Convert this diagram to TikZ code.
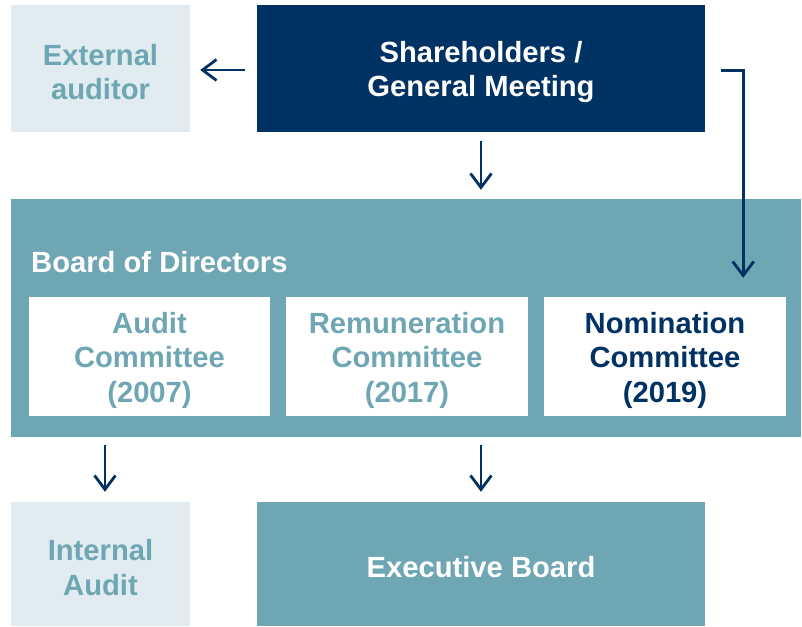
\documentclass[tikz,border=0pt]{standalone}
\usepackage{fontspec}
\setmainfont{Liberation Sans}
\usetikzlibrary{positioning}
\usetikzlibrary{arrows.meta}
\definecolor{navy}{HTML}{003263}
\definecolor{teal}{HTML}{6FA6B4}
\definecolor{pale}{HTML}{E0ECEF}
\tikzset{
    mybox/.style = {rectangle, inner sep=0pt, align=center, font=\bfseries\fontsize{29.2}{34.5}\selectfont},
    boxtext/.style = {mybox, yshift=-3.5pt},
    mynoded/.style = {mybox, fill=navy},
    mynodet/.style = {mybox, fill=teal},
    mynodel/.style = {mybox, fill=pale},
    mynodew/.style = {mybox, fill=white},
    edgen/.style = {-{Straight Barb[length=14pt,width=21pt,line width=2.8pt]},line width=2.8pt,navy}
}

\begin{document}
\begin{tikzpicture}[x=1pt,y=-1pt]
\useasboundingbox (0,0) rectangle (802,626);
\node[mynodel, minimum width=179pt, minimum height=127pt, label={[boxtext,text=teal]center:External\\auditor}] at (100.5, 68.5) (ext) {};
\node[mynoded, minimum width=448pt, minimum height=127pt, label={[boxtext,text=white]center:Shareholders /\\General Meeting}] at (481.0, 68.5) (share) {};
\node[mynodet, minimum width=790pt, minimum height=238pt] at (406.0, 318.0) (board) {};
\node[mybox, text=white, anchor=west] at (31.0, 262.0) (boardlbl) {Board of Directors};
\node[mynodew, minimum width=241pt, minimum height=119pt, label={[boxtext,text=teal]center:Audit\\Committee\\(2007)}] at (149.5, 356.5) (audit) {};
\node[mynodew, minimum width=242pt, minimum height=119pt, label={[boxtext,text=teal]center:Remuneration\\Committee\\(2017)}] at (407.0, 356.5) (remun) {};
\node[mynodew, minimum width=242pt, minimum height=119pt, label={[boxtext,text=navy]center:Nomination\\Committee\\(2019)}] at (665.0, 356.5) (nomin) {};
\node[mynodel, minimum width=179pt, minimum height=124pt, label={[boxtext,text=teal]center:Internal\\Audit}] at (100.5, 564.0) (internal) {};
\node[mynodet, minimum width=448pt, minimum height=124pt, label={[boxtext,text=white]center:Executive Board}] at (481.0, 564.0) (exec) {};
%
\coordinate (nomtop) at ([xshift=-43pt]nomin.north east);
\draw[edgen, shorten <=12pt, shorten >=10pt] ([yshift=-1.5pt]share.west) -- ([yshift=-1.5pt]ext.east);
\draw[edgen, shorten <=9pt, shorten >=9pt] (share.south) -- (share.south |- board.north);
\draw[edgen, shorten >=19pt] ([xshift=16pt,yshift=-2pt]share.east) -| (nomtop);
\draw[edgen, shorten <=8pt, shorten >=10pt] ([xshift=4.5pt]internal.north |- board.south) -- ([xshift=4.5pt]internal.north);
\draw[edgen, shorten <=8pt, shorten >=10pt] (exec.north |- board.south) -- (exec.north);
\end{tikzpicture}
\end{document}
